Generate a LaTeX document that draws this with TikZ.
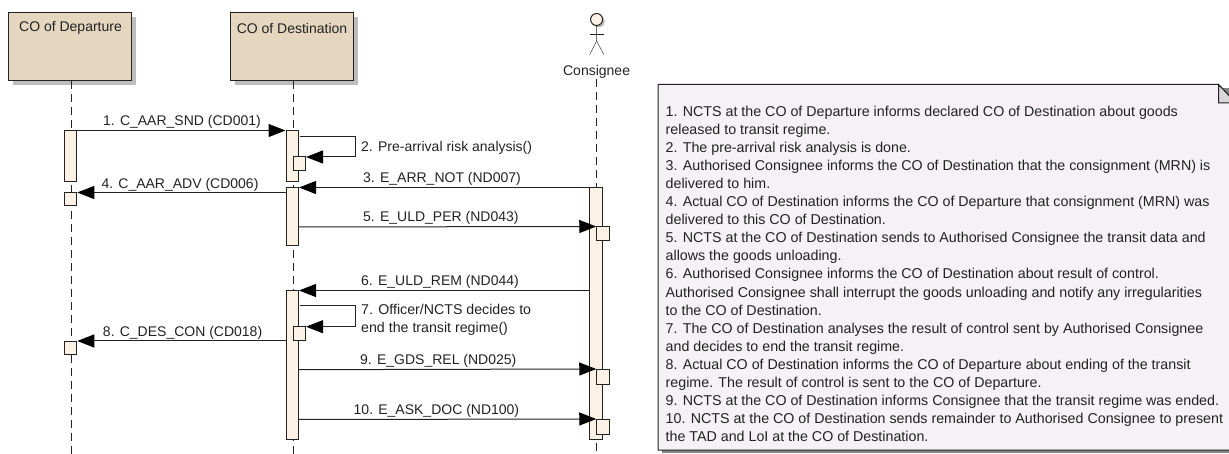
\documentclass[tikz,border=0pt]{standalone}
\usepackage{fontspec}
\setmainfont{Liberation Sans}
\usetikzlibrary{arrows.meta,shadows}
\definecolor{boxfill}{HTML}{E5D6BF}
\definecolor{actfill}{HTML}{FBF2E5}
\definecolor{notefill}{HTML}{F5F1F6}
\definecolor{inkline}{HTML}{222222}
\definecolor{shadowgray}{HTML}{BDBDBD}
\tikzset{
	lifebox/.style = {draw=inkline, line width=1pt, fill=boxfill, minimum width=123pt, minimum height=68pt, inner sep=0pt, drop shadow={shadow xshift=4pt, shadow yshift=-4pt, fill=shadowgray, opacity=1}},
	act/.style = {draw=inkline, line width=1pt, fill=actfill, minimum width=12.5pt, inner sep=0pt},
	smallact/.style = {act, minimum height=14pt},
	life/.style = {draw=inkline, line width=1pt, dash pattern=on 8pt off 5pt},
	msg/.style = {draw=inkline, line width=1pt, -{Triangle[length=17pt,width=13pt,color=black]}},
	lab/.style = {font=\fontsize{14}{16}\selectfont, text=inkline, inner sep=0pt}
}
\begin{document}
\begin{tikzpicture}[x=1pt,y=-1pt]
		\useasboundingbox (0,0) rectangle (1229,454);
		
		\node (boxA) at (70.25,47) [lifebox] {};
		\node (boxB) at (292.25,47) [lifebox] {};
		\node (txtA) at (70.5,28) [lab] {CO of Departure};
		\node (txtB) at (292,28) [lab] {CO of Destination};
		
		\node (head) at (596.6,19.5) [circle, draw=inkline, line width=1pt, fill=actfill, minimum size=12pt, inner sep=0pt, drop shadow={shadow xshift=2pt, shadow yshift=-2pt, fill=shadowgray, opacity=1}] {};
		\coordinate (hip) at (596.6,41);
		\coordinate (armL) at (589.5,34);
		\coordinate (armR) at (604,34);
		\coordinate (legL) at (589.5,55);
		\coordinate (legR) at (604,55);
		\draw [inkline] (head) -- (hip) -- (legL);
		\draw [inkline] (hip) -- (legR);
		\draw [inkline] (armL) -- (armR);
		\node (txtC) at (596.6,72) [lab] {Consignee};
		
		\coordinate (endA) at (71,454);
		\coordinate (endB) at (293,454);
		\coordinate (endC) at (596.6,454);
		\draw [life] (boxA.south -| endA) -- (endA);
		\draw [life] (boxB.south -| endB) -- (endB);
		\draw [life] (txtC.south -| endC) -- (endC);
		
		\node (actA) at (70.5,156.5) [act, minimum height=51pt] {};
		\node (actBa) at (292.25,156.5) [act, minimum height=51pt] {};
		\node (actBb) at (292.25,217) [act, minimum height=58pt] {};
		\node (actBc) at (292.25,365) [act, minimum height=148pt] {};
		\node (actC) at (596,313.5) [act, minimum height=251pt] {};
		
		% calls
		\draw [msg] (actA.north east) -- (actBa.north west);
		\draw [msg] (actC.north west) -- (actBb.north east);
		\draw [msg] (actC.west |- actBc.north) -- (actBc.north east);
		
		\node (smallA) at (70.5,199.5) [smallact, minimum height=13pt] {};
		\node (smallD) at (70.5,348) [smallact, minimum height=13pt] {};
		\draw [msg] (smallA.north east -| actBb.west) -- (smallA.north east);
		\draw [msg] (smallD.north east -| actBc.west) -- (smallD.north east);
		
		\coordinate (selfAa) at (300,136.5);
		\coordinate (selfAb) at (355,136.5);
		\coordinate (selfAc) at (355,157);
		\coordinate (selfAd) at (306,157);
		\draw [msg] (selfAa) -- (selfAb) -- (selfAc) -- (selfAd);
		\node (smallB) at (299.25,164) [smallact] {};
		
		\coordinate (selfBa) at (300,305.7);
		\coordinate (selfBb) at (355,305.7);
		\coordinate (selfBc) at (355,326.7);
		\coordinate (selfBd) at (306,326.7);
		\draw [msg] (selfBa) -- (selfBb) -- (selfBc) -- (selfBd);
		\node (smallE) at (299.25,333.7) [smallact] {};
		
		\coordinate (startE) at (298.5,227);
		\coordinate (startG) at (298.5,369.7);
		\coordinate (startH) at (298.5,419.5);
		\node (smallC) at (603,234) [smallact] {};
		\node (smallF) at (603,377) [smallact, minimum height=15pt] {};
		\node (smallG) at (603,427) [smallact, minimum height=15pt] {};
		\draw [msg] (startE) -- (smallC.north west);
		\draw [msg] (startG) -- (smallF.north west);
		\draw [msg] (startH) -- (smallG.north west);
		
		\node (lab1) at (182,121.5) [lab] {1. C\_AAR\_SND (CD001)};
		\node (lab2) at (361,147.5) [lab, anchor=west] {2. Pre-arrival risk analysis()};
		\node (lab3) at (363,178.5) [lab, anchor=west] {3. E\_ARR\_NOT (ND007)};
		\node (lab4) at (180,184.5) [lab] {4. C\_AAR\_ADV (CD006)};
		\node (lab5) at (363,217.5) [lab, anchor=west] {5. E\_ULD\_PER (ND043)};
		\node (lab6) at (361,281.5) [lab, anchor=west] {6. E\_ULD\_REM (ND044)};
		\node (lab7) at (361,320) [lab, anchor=west, align=left, font=\fontsize{14.2}{18}\selectfont] {7. Officer/NCTS decides to\\end the transit regime()};
		\node (lab8) at (182.6,332.5) [lab] {8. C\_DES\_CON (CD018)};
		\node (lab9) at (360,361) [lab, anchor=west] {9. E\_GDS\_REL (ND025)};
		\node (lab10) at (353.5,410.5) [lab, anchor=west] {10. E\_ASK\_DOC (ND100)};
		
		% note, runs off the right edge
		\begin{scope}
		\clip (0,0) rectangle (1229,454);
		\fill [shadowgray!70!black] (662,88) rectangle (1240,453);
		\draw [inkline, line width=1pt, fill=notefill] (658,84.5) -- (1218.5,84.5) -- (1236,103) -- (1236,450) -- (658,450) -- cycle;
		\draw [inkline, line width=1pt, fill=shadowgray!60] (1218.5,84.5) -- (1218.5,103) -- (1236,103) -- cycle;
		\node (notetext) at (665.5,106) [lab, anchor=north west, align=left, font=\fontsize{14.25}{18.05}\selectfont] {1. NCTS at the CO of Departure informs declared CO of Destination about goods\\
		released to transit regime.\\
		2. The pre-arrival risk analysis is done.\\
		3. Authorised Consignee informs the CO of Destination that the consignment (MRN) is\\
		delivered to him.\\
		4. Actual CO of Destination informs the CO of Departure that consignment (MRN) was\\
		delivered to this CO of Destination.\\
		5. NCTS at the CO of Destination sends to Authorised Consignee the transit data and\\
		allows the goods unloading.\\
		6. Authorised Consignee informs the CO of Destination about result of control.\\
		Authorised Consignee shall interrupt the goods unloading and notify any irregularities\\
		to the CO of Destination.\\
		7. The CO of Destination analyses the result of control sent by Authorised Consignee\\
		and decides to end the transit regime.\\
		8. Actual CO of Destination informs the CO of Departure about ending of the transit\\
		regime. The result of control is sent to the CO of Departure.\\
		9. NCTS at the CO of Destination informs Consignee that the transit regime was ended.\\
		10. NCTS at the CO of Destination sends remainder to Authorised Consignee to present\\
		the TAD and LoI at the CO of Destination.};
		\end{scope}
		\end{tikzpicture}
\end{document}
